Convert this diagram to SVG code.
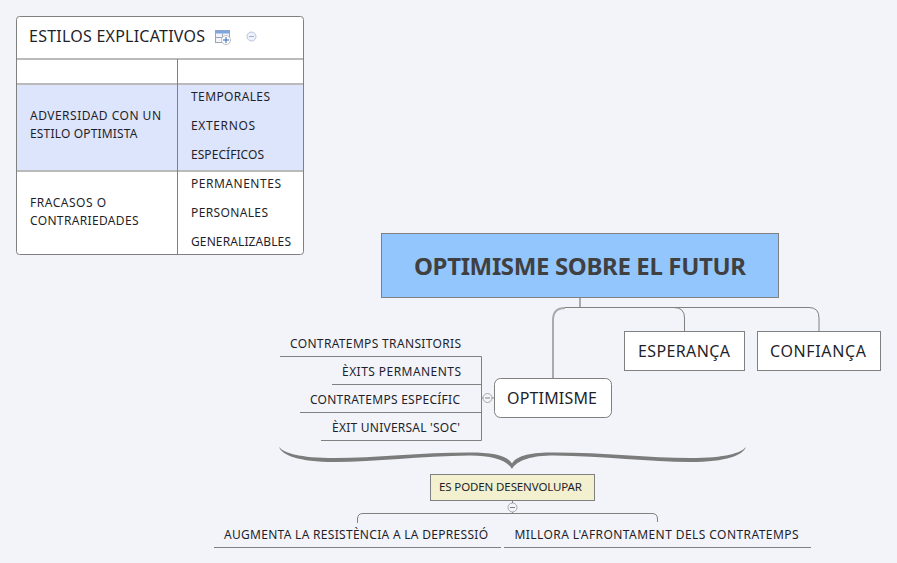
<svg xmlns="http://www.w3.org/2000/svg" width="897" height="563" viewBox="0 0 897 563">
<style>
text{font-family:"Noto Sans","Open Sans","Liberation Sans",sans-serif;fill:#1f1f2a}
.s{font-size:12px}
.m{font-size:16px}
.n{fill:#fff;stroke:#808080;stroke-width:1}
.c{fill:none;stroke:#808080;stroke-width:1}
.g{fill:none;stroke:#aaa;stroke-width:2}
.u{fill:none;stroke:#808080;stroke-width:1}
</style>
<defs>
<g id="minus"><circle r="4.5" fill="#f2f4fa" stroke="#a8a8a8"/><path d="M-2.500 0H2.500" stroke="#808080"/></g>
</defs>
<rect width="897" height="563" fill="#f2f4fa"/>
<g id="connectors">
<path class="g" d="M580 298V307"/>
<path class="g" d="M553 378V320Q553 308 565 308"/>
<path class="c" d="M565 307.500H809Q819 307.500 819 318V331"/>
<path class="c" d="M674 307.500Q684.500 307.500 684.500 318V331"/>
<path class="c" d="M482 398H494"/>
<path class="c" d="M512.500 500V513.500"/>
<path class="c" d="M357.500 523V519Q357.500 513.500 363 513.500H652Q657.500 513.500 657.500 519V522"/>
<path d="M279 447C282 455 298 462 335 462C375 462 420 456 470 455.500C492 455.500 507 460 512 469C517 460 532 455.500 554 455.500C604 456 650 462 690 462C727 462 743 455 746 447C741 453 726 458 690 458C650 458 604 452.500 554 452.500C532 452.500 517 455 512 463.500C507 455 492 452.500 470 452.500C420 452.500 375 458 335 458C299 458 284 453 279 447Z" fill="#7c7c7c"/>
</g>
<g id="table">
<rect x="16.500" y="16.500" width="287" height="238" rx="3" fill="#fff" stroke="#808080"/>
<rect x="17" y="84" width="286" height="87" fill="#dde5fc"/>
<path d="M17 59H303M17 84H303M17 171H303" stroke="#bababa" stroke-width="2" fill="none"/>
<path d="M177.500 59V254" stroke="#808080" fill="none"/>
<text x="29" y="42" class="m" textLength="176">ESTILOS EXPLICATIVOS</text>
<g id="table-icon" fill="none">
<rect x="215.500" y="30.500" width="14" height="12" fill="#f2f4fa" stroke="#9aa6b8"/>
<rect x="215.500" y="30.500" width="14" height="3" fill="#7da6dc"/>
<path d="M215.500 37.500H229.500M222.500 33.500V42.500" stroke="#9aa6b8"/>
<circle cx="226" cy="40" r="4.500" fill="#fff" stroke="#c0c0c0"/>
<path d="M223 40H229M226 37V43" stroke="#2a66c0"/>
</g>
<g id="table-collapse"><circle cx="251.500" cy="36.500" r="4.500" fill="#eef1fa" stroke="#b6c4e0"/><path d="M249 36.500H254" stroke="#9ab0d8"/></g>
<text x="30" y="120" class="s" textLength="131">ADVERSIDAD CON UN</text>
<text x="30" y="138" class="s" textLength="107.500">ESTILO OPTIMISTA</text>
<text x="30" y="207" class="s" textLength="76">FRACASOS O</text>
<text x="30" y="225" class="s" textLength="108.500">CONTRARIEDADES</text>
<text x="191" y="101" class="s" textLength="79">TEMPORALES</text>
<text x="191" y="130" class="s" textLength="64">EXTERNOS</text>
<text x="191" y="159" class="s" textLength="73">ESPECÍFICOS</text>
<text x="191" y="188" class="s" textLength="90">PERMANENTES</text>
<text x="191" y="217" class="s" textLength="77">PERSONALES</text>
<text x="191" y="246" class="s" textLength="100">GENERALIZABLES</text>
</g>
<g id="central">
<rect x="381.500" y="233.500" width="397" height="64" fill="#94c6fe" stroke="#808080"/>
<text x="414" y="275" font-size="24" font-weight="700" textLength="332" style="fill:#404040">OPTIMISME SOBRE EL FUTUR</text>
</g>
<g id="esperanca"><rect class="n" x="624.500" y="331.500" width="120" height="39"/><text x="638" y="357" class="m" textLength="92">ESPERANÇA</text></g>
<g id="confianca"><rect class="n" x="757.500" y="331.500" width="123" height="39"/><text x="770" y="357" class="m" textLength="96">CONFIANÇA</text></g>
<g id="optimisme"><rect class="n" x="494.500" y="378.500" width="117" height="39" rx="6"/><text x="507" y="404" class="m" textLength="90">OPTIMISME</text></g>
<g id="optimisme-children">
<path class="u" d="M280 356.500H481.500V440.500H321M332 384.500H481.500M300 412.500H481.500"/>
<text x="290" y="348" class="s" textLength="171">CONTRATEMPS TRANSITORIS</text>
<text x="342" y="376" class="s" textLength="119">ÈXITS PERMANENTS</text>
<text x="310" y="404" class="s" textLength="150">CONTRATEMPS ESPECÍFIC</text>
<text x="332" y="432" class="s" textLength="128">ÈXIT UNIVERSAL 'SOC'</text>
<use href="#minus" x="487.500" y="398"/>
</g>
<g id="desenvolupar">
<rect x="430.500" y="474.500" width="164" height="26" fill="#f2f0cf" stroke="#808080"/>
<text x="439" y="491" font-size="11.500" textLength="143">ES PODEN DESENVOLUPAR</text>
<use href="#minus" x="512.500" y="507.500"/>
</g>
<g id="augmenta">
<text x="224" y="539" class="s" textLength="264">AUGMENTA LA RESISTÈNCIA A LA DEPRESSIÓ</text>
<path class="u" d="M214 547.500H501"/>
</g>
<g id="millora">
<text x="514.500" y="539" class="s" textLength="284">MILLORA L'AFRONTAMENT DELS CONTRATEMPS</text>
<path class="u" d="M504 547.500H811"/>
</g>
</svg>
